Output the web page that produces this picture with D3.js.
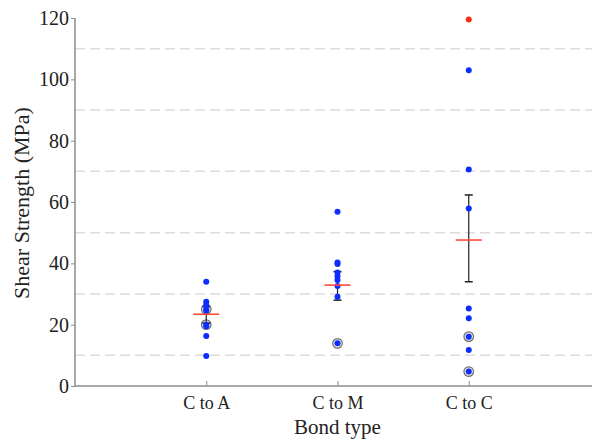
<!DOCTYPE html>
<html>
<head>
<meta charset="UTF-8">
<title>Shear strength by bond type</title>
<script src="https://cdn.jsdelivr.net/npm/d3@7"></script>
<style>
  body { margin: 0; background: #fff; }
  svg text { font-family: "Liberation Serif", "DejaVu Serif", serif !important; fill: #222; }
</style>
</head>
<body>
<svg id="chart" width="592" height="439"></svg>
<script>
// values
var categories = ["C to A", "C to M", "C to C"];
var pointsCtoA = [34, 27.5, 26.5, 25, 24.5, 20, 19.5, 16.3, 9.8];
var pointsCtoM = [56.8, 40.3, 39.8, 37, 35.9, 34.6, 32.6, 29.1, 13.9];
var pointsCtoC = [119.5, 103, 70.6, 57.9, 25.3, 22.1, 16.1, 11.7, 4.7];
// points drawn with a grey ring around them
var ringedCtoA = [25, 20];
var ringedCtoM = [13.9];
var ringedCtoC = [16.1, 4.7];
// points drawn in red
var redCtoC = [119.5];
var means = [23.4, 32.9, 47.6];
var errLow = [20.5, 28.0, 34.0];
var errHigh = [25.9, 37.3, 62.3];
var yTicks = [0, 20, 40, 60, 80, 100, 120];
var gridValues = [10, 30, 50, 70, 90, 110];

var groups = [
  { name: categories[0], pts: pointsCtoA, ring: ringedCtoA, red: [] },
  { name: categories[1], pts: pointsCtoM, ring: ringedCtoM, red: [] },
  { name: categories[2], pts: pointsCtoC, ring: ringedCtoC, red: redCtoC }
];

var svg = d3.select("#chart");
var plotLeft = 75, plotTop = 18, plotBottom = 386, plotRight = 600;

var x = d3.scaleLinear().domain([0, 4]).range([plotLeft, plotRight]);
var y = d3.scaleLinear().domain([0, 120]).range([plotBottom, plotTop]);

// dashed grid lines
svg.append("g").selectAll("line").data(gridValues).enter().append("line")
  .attr("x1", plotLeft).attr("x2", 592)
  .attr("y1", function (d) { return y(d); })
  .attr("y2", function (d) { return y(d); })
  .attr("stroke", "#dcdcdc")
  .attr("stroke-width", 1.5)
  .attr("stroke-dasharray", "10,5");

// y axis
var yAxis = svg.append("g")
  .attr("transform", "translate(" + plotLeft + ",0)")
  .call(d3.axisLeft(y).tickValues(yTicks).tickSize(4).tickPadding(2));
yAxis.selectAll("text").style("font-size", "20px");

// x axis, ticks pointing up
var xAxis = svg.append("g")
  .attr("transform", "translate(0," + plotBottom + ")")
  .call(d3.axisBottom(x).tickValues([1, 2, 3])
    .tickFormat(function (d) { return categories[d - 1]; })
    .tickSize(-5).tickPadding(10));
xAxis.selectAll("text").style("font-size", "18px");

svg.selectAll("g").attr("font-family", null);
svg.selectAll(".domain").attr("stroke", "#8c8c8c").attr("stroke-width", 1.5);
svg.selectAll(".tick line").attr("stroke", "#8c8c8c");
yAxis.select(".domain").attr("d", "M0," + plotBottom + "V" + plotTop);
xAxis.select(".domain").attr("d", "M" + plotLeft + ",0H592");

// axis titles
svg.append("text")
  .attr("transform", "translate(29,203) rotate(-90)")
  .attr("text-anchor", "middle")
  .style("font-size", "22px")
  .text("Shear Strength (MPa)");

svg.append("text")
  .attr("x", x(2)).attr("y", 434)
  .attr("text-anchor", "middle")
  .style("font-size", "21px")
  .text("Bond type");

// markers per group
groups.forEach(function (g, i) {
  var cx = x(i + 1);
  var layer = svg.append("g");

  // grey rings
  layer.selectAll("circle.ring").data(g.ring).enter().append("circle")
    .attr("class", "ring")
    .attr("cx", cx).attr("cy", function (d) { return y(d); })
    .attr("r", 4.8)
    .attr("fill", "#e8e8e8")
    .attr("stroke", "#6e6e6e")
    .attr("stroke-width", 1.2);

  // error bar
  layer.append("line")
    .attr("x1", cx).attr("x2", cx)
    .attr("y1", y(errLow[i])).attr("y2", y(errHigh[i]))
    .attr("stroke", "#222").attr("stroke-width", 1.2);
  [errLow[i], errHigh[i]].forEach(function (v) {
    layer.append("line")
      .attr("x1", cx - 4).attr("x2", cx + 4)
      .attr("y1", y(v)).attr("y2", y(v))
      .attr("stroke", "#222").attr("stroke-width", 1.5);
  });

  // points
  layer.selectAll("circle.pt").data(g.pts).enter().append("circle")
    .attr("class", "pt")
    .attr("cx", cx).attr("cy", function (d) { return y(d); })
    .attr("r", 3)
    .attr("fill", function (d) { return g.red.indexOf(d) >= 0 ? "#ff2a12" : "#0d2cff"; });

  // mean line
  layer.append("line")
    .attr("x1", cx - 13).attr("x2", cx + 13)
    .attr("y1", y(means[i])).attr("y2", y(means[i]))
    .attr("stroke", "#ff4a3a").attr("stroke-width", 1.6);
});
</script>
</body>
</html>
